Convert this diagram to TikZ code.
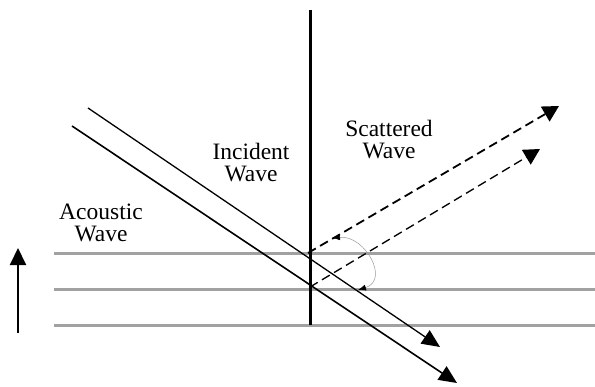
\documentclass[tikz,border=0pt]{standalone}
\usepackage{fontspec}
\setmainfont{Liberation Serif}
\usetikzlibrary{arrows.meta}

\begin{document}
\begin{tikzpicture}[
  x=1pt, y=-1pt,
  wavelabel/.style={align=center, inner sep=0pt,
                    font=\fontsize{23.5}{22}\selectfont},
  layerline/.style={draw=black!37, line width=3pt},
  incident/.style={-{Triangle[length=18, width=16]}, line width=1.3pt},
  scattered/.style={-{Triangle[length=16, width=17]}, dashed,
                    dash pattern=on 9pt off 5pt},
  anglearc/.style={draw=black!40, line width=0.5pt,
                   {Latex[length=8, width=6, black]}-{Latex[length=8, width=6, black]}}
]
\useasboundingbox (0,0) rectangle (595,386);

% layers
\foreach \yy in {253, 289, 325}{
  \draw[layerline] (54,\yy) -- (595,\yy);
}

% interface
\draw[line width=3pt] (310,10) -- (310,325);

% direction of acoustic propagation
\coordinate (upfoot) at (18,333);
\coordinate (uptip)  at (18,248);
\draw[line width=2pt, -{Triangle[length=17, width=16]}] (upfoot) -- (uptip);

% incident beams
\coordinate (inAstart) at (88,108);
\coordinate (inAend)   at (440,347);
\coordinate (inBstart) at (72,126);
\coordinate (inBend)   at (457,383);
\draw[incident] (inAstart) -- (inAend);
\draw[incident, line width=1.6pt] (inBstart) -- (inBend);

% scattered beams
\coordinate (scA) at (308,253);
\coordinate (scAtip) at (559,106);
\coordinate (scB) at (310,287);
\coordinate (scBtip) at (540,149);
\draw[scattered, line width=1.8pt] (scA) -- (scAtip);
\draw[scattered, line width=1.3pt] (scB) -- (scBtip);

% angle between them
\coordinate (arcA) at (332,238);
\coordinate (arcB) at (358,290);
\draw[anglearc] (arcA) .. controls (365,235) and (390,280) .. (arcB);

% labels
\node[wavelabel] (acoustic)  at (101,223) {Acoustic\\Wave};
\node[wavelabel] (incidentl) at (251,163) {Incident\\Wave};
\node[wavelabel] (scatterl)  at (389,140) {Scattered\\Wave};

\end{tikzpicture}
\end{document}
